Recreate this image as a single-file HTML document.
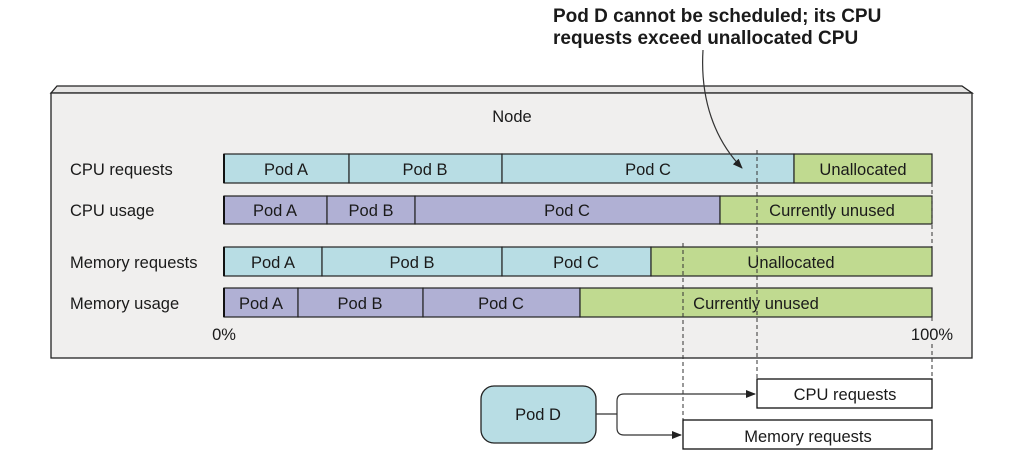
<!DOCTYPE html>
<html><head><meta charset="utf-8"><style>
html,body{margin:0;padding:0;background:#fff;}
svg{display:block;}
text{font-family:"Liberation Sans",sans-serif;font-size:16.5px;fill:#1a1a1a;}
.b{font-family:"Liberation Sans Narrow","Liberation Sans",sans-serif;font-weight:bold;font-size:19px;fill:#1a1a1a;}
</style></head><body>
<svg width="1016" height="473" viewBox="0 0 1016 473" xmlns="http://www.w3.org/2000/svg">
<defs><marker id="ah" markerWidth="10" markerHeight="8" refX="9" refY="4" orient="auto" markerUnits="userSpaceOnUse"><path d="M0,0 L10,4 L0,8 z" fill="#222"/></marker></defs>
<path d="M51,93 L57,86 L962,86 L972,93 Z" fill="#e6e5e4" stroke="#222" stroke-width="1.3"/>
<rect x="51" y="93" width="921" height="265" fill="#f0efee" stroke="#222" stroke-width="1.3"/>
<text x="512" y="122" text-anchor="middle">Node</text>
<g>
<text x="70" y="175">CPU requests</text>
<text x="70" y="216">CPU usage</text>
<text x="70" y="268">Memory requests</text>
<text x="70" y="309">Memory usage</text>
</g>
<g stroke="#222" stroke-width="1.2" text-anchor="middle">
<rect x="224" y="154" width="125" height="29" fill="#b8dde4"/>
<rect x="349" y="154" width="153" height="29" fill="#b8dde4"/>
<rect x="502" y="154" width="292" height="29" fill="#b8dde4"/>
<rect x="794" y="154" width="138" height="29" fill="#c0da90"/>
<rect x="224" y="196" width="103" height="28" fill="#b0b0d4"/>
<rect x="327" y="196" width="88" height="28" fill="#b0b0d4"/>
<rect x="415" y="196" width="305" height="28" fill="#b0b0d4"/>
<rect x="720" y="196" width="212" height="28" fill="#c0da90"/>
<rect x="224" y="247" width="98" height="29" fill="#b8dde4"/>
<rect x="322" y="247" width="180" height="29" fill="#b8dde4"/>
<rect x="502" y="247" width="149" height="29" fill="#b8dde4"/>
<rect x="651" y="247" width="281" height="29" fill="#c0da90"/>
<rect x="224" y="288" width="74" height="29" fill="#b0b0d4"/>
<rect x="298" y="288" width="125" height="29" fill="#b0b0d4"/>
<rect x="423" y="288" width="157" height="29" fill="#b0b0d4"/>
<rect x="580" y="288" width="352" height="29" fill="#c0da90"/>
</g>
<g stroke="#111" stroke-width="2"><line x1="224" y1="154" x2="224" y2="183"/><line x1="224" y1="196" x2="224" y2="224"/><line x1="224" y1="247" x2="224" y2="276"/><line x1="224" y1="288" x2="224" y2="317"/></g>
<g text-anchor="middle">
<text x="286" y="175">Pod A</text><text x="425" y="175">Pod B</text><text x="648" y="175">Pod C</text><text x="863" y="175">Unallocated</text>
<text x="275" y="216">Pod A</text><text x="371" y="216">Pod B</text><text x="567" y="216">Pod C</text><text x="832" y="216">Currently unused</text>
<text x="273" y="268">Pod A</text><text x="412" y="268">Pod B</text><text x="576" y="268">Pod C</text><text x="791" y="268">Unallocated</text>
<text x="261" y="309">Pod A</text><text x="360" y="309">Pod B</text><text x="501" y="309">Pod C</text><text x="756" y="309">Currently unused</text>
</g>
<text x="224" y="340" text-anchor="middle">0%</text>
<text x="932" y="340" text-anchor="middle">100%</text>
<g stroke="#333" stroke-width="1" stroke-dasharray="4,3" fill="none">
<line x1="757" y1="150" x2="757" y2="379"/>
<line x1="683" y1="243" x2="683" y2="420"/>
<line x1="932" y1="183" x2="932" y2="247"/>
<line x1="932" y1="317" x2="932" y2="324"/>
<line x1="932" y1="344" x2="932" y2="379"/>
</g>
<rect x="481" y="386" width="115" height="57" rx="13" fill="#b8dde4" stroke="#222" stroke-width="1.3"/>
<text x="538" y="420" text-anchor="middle">Pod D</text>
<rect x="757" y="379" width="175" height="29" fill="#fff" stroke="#111" stroke-width="1.3"/>
<text x="845" y="400" text-anchor="middle">CPU requests</text>
<rect x="683" y="420" width="249" height="29" fill="#fff" stroke="#111" stroke-width="1.3"/>
<text x="808" y="442" text-anchor="middle">Memory requests</text>
<g stroke="#333" stroke-width="1.2" fill="none">
<path d="M596,414 L617,414"/>
<path d="M617,414 L617,401 Q617,394 624,394 L755,394" marker-end="url(#ah)"/>
<path d="M617,414 L617,428 Q617,435 624,435 L681,435" marker-end="url(#ah)"/>
<path d="M703,50 C700,100 715,140 742,168" marker-end="url(#ah)"/>
</g>
<text class="b" x="553" y="22">Pod D cannot be scheduled; its CPU</text>
<text class="b" x="553" y="44">requests exceed unallocated CPU</text>
</svg>
</body></html>
